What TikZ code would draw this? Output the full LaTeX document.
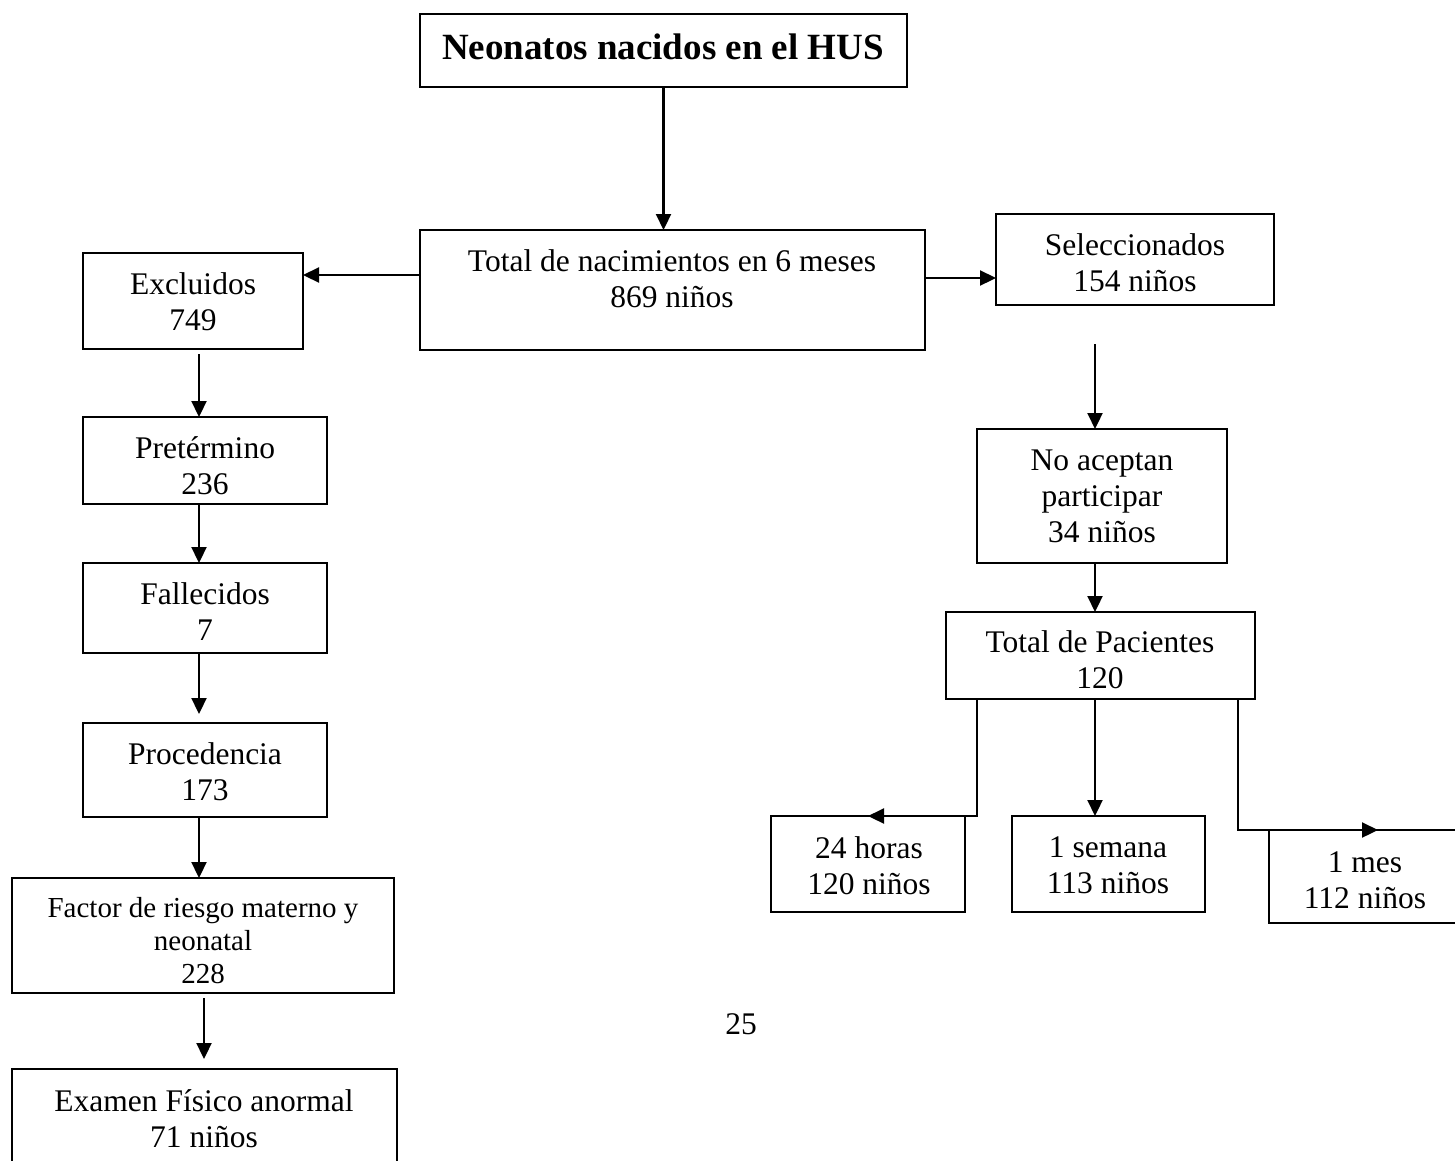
\documentclass[tikz,border=0pt]{standalone}
\usepackage{fontspec}
\setmainfont{Liberation Serif}
\usetikzlibrary{arrows.meta,fit}
\begin{document}
\begin{tikzpicture}[x=1pt,y=-1pt,
 box/.style={draw, line width=2.2pt, inner sep=0pt, outer sep=0pt},
 txt/.style={align=center, inner sep=0pt, anchor=north, font=\fontsize{31.5}{36}\selectfont},
 stxt/.style={align=center, inner sep=0pt, anchor=north, font=\fontsize{29}{33}\selectfont},
 ttxt/.style={align=center, inner sep=0pt, anchor=north, font=\fontsize{37}{42}\selectfont\bfseries},
 arr/.style={line width=2.2pt, -{Triangle[length=16pt,width=15pt]}}]
\useasboundingbox (0,0) rectangle (1455,1160);
\clip (0,0) rectangle (1455,1160);
% boxes
\node[box, fit={(420,14)(907,87)}] (top) {};
\node[box, fit={(420,230)(925,350)}] (total) {};
\node[box, fit={(83,253)(303,349)}] (excl) {};
\node[box, fit={(996,214)(1274,305)}] (sel) {};
\node[box, fit={(83,417)(327,504)}] (pret) {};
\node[box, fit={(83,563)(327,653)}] (fall) {};
\node[box, fit={(83,723)(327,817)}] (proc) {};
\node[box, fit={(12,878)(394,993)}] (fac) {};
\node[box, fit={(12,1069)(397,1185)}] (exa) {};
\node[box, fit={(977,429)(1227,563)}] (noa) {};
\node[box, fit={(946,612)(1255,699)}] (pac) {};
\node[box, fit={(771,816)(965,912)}] (h24) {};
\node[box, fit={(1012,816)(1205,912)}] (sem) {};
\node[box, fit={(1269,830)(1487,923)}] (mes) {};
% texts
\node[ttxt] (topt) at (663,34) {Neonatos nacidos en el HUS};
\node[txt] (totalt) at (672,249) {Total de nacimientos en 6 meses\\869 niños};
\node[txt] (exclt) at (193,272) {Excluidos\\749};
\node[txt] (selt) at (1135,233) {Seleccionados\\154 niños};
\node[txt] (pprett) at (205,436) {Pretérmino\\236};
\node[txt] (fallt) at (205,582) {Fallecidos\\7};
\node[txt] (proct) at (205,742) {Procedencia\\173};
\node[stxt] (fact) at (203,897) {Factor de riesgo materno y\\neonatal\\228};
\node[txt] (exat) at (204,1089) {Examen Físico anormal\\71 niños};
\node[txt] (noat) at (1102,450) {No aceptan\\participar\\34 niños};
\node[txt] (pact) at (1100,630) {Total de Pacientes\\120};
\node[txt] (h24t) at (869,836) {24 horas\\120 niños};
\node[txt] (semt) at (1108,836) {1 semana\\113 niños};
\node[txt] (mest) at (1365,851) {1 mes\\112 niños};
\node[txt] (pnum) at (741,1013) {25};
% helper coordinates
\coordinate (ya) at (0,275);
\coordinate (yb) at (0,278);
\coordinate (selgap) at (1095,344);
\coordinate (dl) at (977,0);
\coordinate (dm) at (1095,0);
\coordinate (dr) at (1238,0);
\coordinate (lc) at (199,0);
\coordinate (lc2) at (204,0);
% connectors
\draw[arr] (top.south) -- (top.south |- total.north);
\draw[arr] (total.west |- ya) -- (excl.east |- ya);
\draw[arr] (total.east |- yb) -- (sel.west |- yb);
\draw[arr] (selgap) -- (selgap |- noa.north);
\draw[arr] (noa.south -| dm) -- (pac.north -| dm);
\draw[arr] (pac.south -| dl) |- (h24.north);
\draw[arr] (pac.south -| dm) -- (sem.north -| dm);
\draw[arr] (pac.south -| dr) |- (mes.north);
\draw[arr, shorten <=5pt] (excl.south -| lc) -- (pret.north -| lc);
\draw[arr] (pret.south -| lc) -- (fall.north -| lc);
\draw[arr, shorten >=9pt] (fall.south -| lc) -- (proc.north -| lc);
\draw[arr] (proc.south -| lc) -- (fac.north -| lc);
\draw[arr, shorten <=5pt, shorten >=10pt] (fac.south -| lc2) -- (exa.north -| lc2);
\end{tikzpicture}
\end{document}
